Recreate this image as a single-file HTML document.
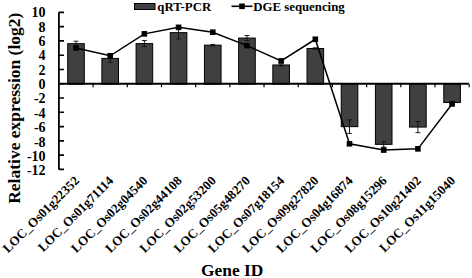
<!DOCTYPE html><html><head><meta charset="utf-8"><style>html,body{margin:0;padding:0;background:#fff;}svg{display:block;}text{font-family:"Liberation Serif",serif;font-weight:bold;fill:#000;}</style></head><body>
<svg width="472" height="278" viewBox="0 0 472 278">
<rect x="67.70" y="43.70" width="16.60" height="40.40" fill="#404040" stroke="#000" stroke-width="1"/>
<rect x="101.89" y="58.40" width="16.60" height="25.70" fill="#404040" stroke="#000" stroke-width="1"/>
<rect x="136.08" y="43.63" width="16.60" height="40.47" fill="#404040" stroke="#000" stroke-width="1"/>
<rect x="170.27" y="32.64" width="16.60" height="51.46" fill="#404040" stroke="#000" stroke-width="1"/>
<rect x="204.46" y="45.13" width="16.60" height="38.97" fill="#404040" stroke="#000" stroke-width="1"/>
<rect x="238.65" y="38.06" width="16.60" height="46.04" fill="#404040" stroke="#000" stroke-width="1"/>
<rect x="272.84" y="64.97" width="16.60" height="19.13" fill="#404040" stroke="#000" stroke-width="1"/>
<rect x="307.03" y="48.48" width="16.60" height="35.62" fill="#404040" stroke="#000" stroke-width="1"/>
<rect x="341.22" y="84.10" width="16.60" height="42.54" fill="#404040" stroke="#000" stroke-width="1"/>
<rect x="375.41" y="84.10" width="16.60" height="60.24" fill="#404040" stroke="#000" stroke-width="1"/>
<rect x="409.60" y="84.10" width="16.60" height="42.97" fill="#404040" stroke="#000" stroke-width="1"/>
<rect x="443.79" y="84.10" width="16.60" height="18.42" fill="#404040" stroke="#000" stroke-width="1"/>
<path d="M76.00 41.20V46.20M73.60 41.20H78.40M73.60 46.20H78.40" stroke="#111" stroke-width="0.95" fill="none"/>
<path d="M110.19 54.48V62.33M107.79 54.48H112.59M107.79 62.33H112.59" stroke="#111" stroke-width="0.95" fill="none"/>
<path d="M144.38 40.56V46.70M141.98 40.56H146.78M141.98 46.70H146.78" stroke="#111" stroke-width="0.95" fill="none"/>
<path d="M178.57 26.35V38.92M176.17 26.35H180.97M176.17 38.92H180.97" stroke="#111" stroke-width="0.95" fill="none"/>
<path d="M212.76 44.41V45.84M210.36 44.41H215.16M210.36 45.84H215.16" stroke="#111" stroke-width="0.95" fill="none"/>
<path d="M246.95 35.56V40.56M244.55 35.56H249.35M244.55 40.56H249.35" stroke="#111" stroke-width="0.95" fill="none"/>
<path d="M281.14 63.90V66.04M278.74 63.90H283.54M278.74 66.04H283.54" stroke="#111" stroke-width="0.95" fill="none"/>
<path d="M315.33 47.77V49.20M312.93 47.77H317.73M312.93 49.20H317.73" stroke="#111" stroke-width="0.95" fill="none"/>
<path d="M349.52 119.86V133.42M347.12 119.86H351.92M347.12 133.42H351.92" stroke="#111" stroke-width="0.95" fill="none"/>
<path d="M383.71 141.49V147.20M381.31 141.49H386.11M381.31 147.20H386.11" stroke="#111" stroke-width="0.95" fill="none"/>
<path d="M417.90 121.50V132.64M415.50 121.50H420.30M415.50 132.64H420.30" stroke="#111" stroke-width="0.95" fill="none"/>
<path d="M452.09 101.45V103.59M449.69 101.45H454.49M449.69 103.59H454.49" stroke="#111" stroke-width="0.95" fill="none"/>
<path d="M58.9 12.3V169.4" stroke="#000" stroke-width="1.8" fill="none"/>
<path d="M58.9 169.41H64 M58.9 155.13H64 M58.9 140.85H64 M58.9 126.58H64 M58.9 112.30H64 M58.9 98.03H64 M58.9 83.75H64 M58.9 69.47H64 M58.9 55.20H64 M58.9 40.92H64 M58.9 26.65H64 M58.9 12.37H64 " stroke="#000" stroke-width="1.6" fill="none"/>
<path d="M58.9 83.75H468.8" stroke="#000" stroke-width="1.8" fill="none"/>
<path d="M93.09 83.75V87.25 M127.28 83.75V87.25 M161.47 83.75V87.25 M195.66 83.75V87.25 M229.85 83.75V87.25 M264.04 83.75V87.25 M298.24 83.75V87.25 M332.42 83.75V87.25 M366.62 83.75V87.25 M400.80 83.75V87.25 M435.00 83.75V87.25 M469.18 83.75V87.25 " stroke="#000" stroke-width="1.2" fill="none"/>
<polyline points="76.00,47.98 110.19,55.76 144.38,33.85 178.57,27.35 212.76,32.21 246.95,45.63 281.14,60.90 315.33,39.27 349.52,143.77 383.71,150.06 417.90,148.84 452.09,103.94" fill="none" stroke="#000" stroke-width="1.5"/>
<rect x="73.20" y="45.18" width="5.6" height="5.6" fill="#000"/>
<rect x="107.39" y="52.96" width="5.6" height="5.6" fill="#000"/>
<rect x="141.58" y="31.05" width="5.6" height="5.6" fill="#000"/>
<rect x="175.77" y="24.55" width="5.6" height="5.6" fill="#000"/>
<rect x="209.96" y="29.41" width="5.6" height="5.6" fill="#000"/>
<rect x="244.15" y="42.83" width="5.6" height="5.6" fill="#000"/>
<rect x="278.34" y="58.10" width="5.6" height="5.6" fill="#000"/>
<rect x="312.53" y="36.47" width="5.6" height="5.6" fill="#000"/>
<rect x="346.72" y="140.97" width="5.6" height="5.6" fill="#000"/>
<rect x="380.91" y="147.26" width="5.6" height="5.6" fill="#000"/>
<rect x="415.10" y="146.04" width="5.6" height="5.6" fill="#000"/>
<rect x="449.29" y="101.14" width="5.6" height="5.6" fill="#000"/>
<text x="45.6" y="175.25" font-size="14" text-anchor="end">-12</text>
<text x="45.6" y="160.88" font-size="14" text-anchor="end">-10</text>
<text x="45.6" y="146.51" font-size="14" text-anchor="end">-8</text>
<text x="45.6" y="132.15" font-size="14" text-anchor="end">-6</text>
<text x="45.6" y="117.78" font-size="14" text-anchor="end">-4</text>
<text x="45.6" y="103.42" font-size="14" text-anchor="end">-2</text>
<text x="45.6" y="89.05" font-size="14" text-anchor="end">0</text>
<text x="45.6" y="74.68" font-size="14" text-anchor="end">2</text>
<text x="45.6" y="60.32" font-size="14" text-anchor="end">4</text>
<text x="45.6" y="45.95" font-size="14" text-anchor="end">6</text>
<text x="45.6" y="31.59" font-size="14" text-anchor="end">8</text>
<text x="45.6" y="17.22" font-size="14" text-anchor="end">10</text>
<rect x="134.5" y="3.5" width="20.5" height="6" fill="#404040" stroke="#000" stroke-width="1"/>
<text x="157.3" y="11" font-size="12.8">qRT-PCR</text>
<path d="M231.5 6.3H252.5" stroke="#000" stroke-width="1.6"/>
<rect x="239.2" y="3.5" width="5.6" height="5.6" fill="#000"/>
<text x="253.3" y="11" font-size="12.8">DGE sequencing</text>
<text transform="translate(19.8,108.2) rotate(-90)" font-size="17.5" text-anchor="middle">Relative expression (log2)</text>
<text x="232.2" y="276.2" font-size="17.4" text-anchor="middle">Gene ID</text>
<text transform="translate(80.00,181.5) rotate(-45)" font-size="13" text-anchor="end">LOC_Os01g22352</text>
<text transform="translate(114.19,181.5) rotate(-45)" font-size="13" text-anchor="end">LOC_Os01g71114</text>
<text transform="translate(148.38,181.5) rotate(-45)" font-size="13" text-anchor="end">LOC_Os02g04540</text>
<text transform="translate(182.57,181.5) rotate(-45)" font-size="13" text-anchor="end">LOC_Os02g44108</text>
<text transform="translate(216.76,181.5) rotate(-45)" font-size="13" text-anchor="end">LOC_Os02g53200</text>
<text transform="translate(250.95,181.5) rotate(-45)" font-size="13" text-anchor="end">LOC_Os05g48270</text>
<text transform="translate(285.14,181.5) rotate(-45)" font-size="13" text-anchor="end">LOC_Os07g18154</text>
<text transform="translate(319.33,181.5) rotate(-45)" font-size="13" text-anchor="end">LOC_Os09g27820</text>
<text transform="translate(353.52,181.5) rotate(-45)" font-size="13" text-anchor="end">LOC_Os04g16874</text>
<text transform="translate(387.71,181.5) rotate(-45)" font-size="13" text-anchor="end">LOC_Os08g15296</text>
<text transform="translate(421.90,181.5) rotate(-45)" font-size="13" text-anchor="end">LOC_Os10g21402</text>
<text transform="translate(456.09,181.5) rotate(-45)" font-size="13" text-anchor="end">LOC_Os11g15040</text>
</svg></body></html>
